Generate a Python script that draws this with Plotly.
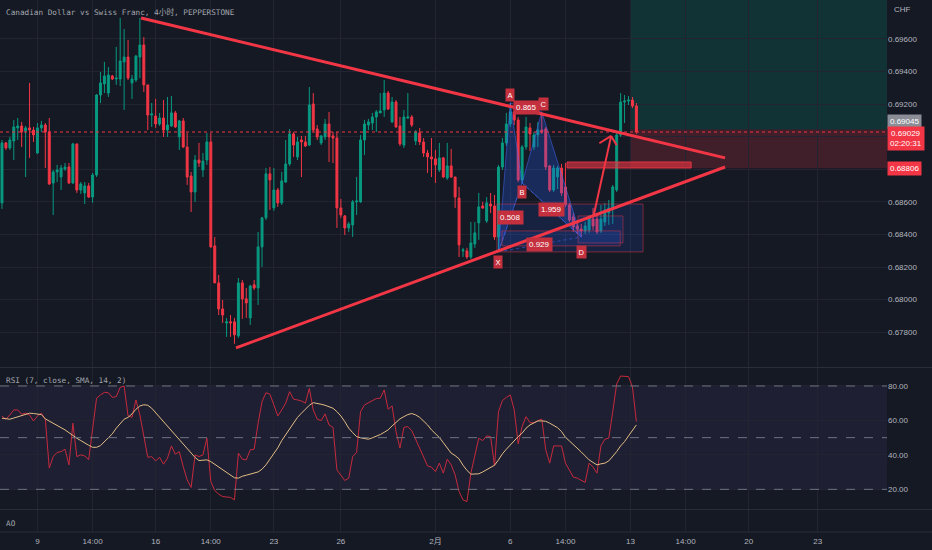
import plotly.graph_objects as go

# CADCHF 4h bars, numbered left to right (weekend gaps removed)
bar_idx = list(range(162))

open_ = [0.68594, 0.68962, 0.68931, 0.68974, 0.69054, 0.69066, 0.69035, 0.69054, 0.69041, 0.68900,
         0.69054, 0.69072, 0.69029, 0.68716, 0.68784, 0.68753, 0.68802, 0.68814, 0.68716, 0.68956,
         0.68673, 0.68655, 0.68698, 0.68630, 0.68765, 0.69256, 0.69324, 0.69268, 0.69373, 0.69354,
         0.69354, 0.69459, 0.69489, 0.69330, 0.69348, 0.69489, 0.69563, 0.69318, 0.69133, 0.69127,
         0.69078, 0.69115, 0.69041, 0.69066, 0.69146, 0.68999, 0.69097, 0.68937, 0.68759, 0.68661,
         0.68857, 0.68796, 0.68857, 0.68968, 0.68330, 0.68103, 0.67943, 0.67857, 0.67864, 0.67864,
         0.67778, 0.68103, 0.68005, 0.67888, 0.68091, 0.68072, 0.68324, 0.68502, 0.68772, 0.68563,
         0.68673, 0.68594, 0.68722, 0.68833, 0.69017, 0.68876, 0.68980, 0.68968, 0.68949, 0.69201,
         0.69048, 0.68962, 0.68999, 0.69078, 0.69005, 0.68992, 0.68563, 0.68514, 0.68440, 0.68459,
         0.68600, 0.68600, 0.68980, 0.69072, 0.69084, 0.69121, 0.69146, 0.69164, 0.69268, 0.69091,
         0.69213, 0.69066, 0.68949, 0.69115, 0.69121, 0.68974, 0.69023, 0.68968, 0.68900, 0.68876,
         0.68864, 0.68796, 0.68870, 0.68747, 0.68821, 0.68753, 0.68624, 0.68299, 0.68299, 0.68262,
         0.68342, 0.68471, 0.68575, 0.68483, 0.68587, 0.68575, 0.68385, 0.68814, 0.68962, 0.69078,
         0.69152, 0.69103, 0.68735, 0.68937, 0.69054, 0.68937, 0.69011, 0.69041, 0.69048, 0.68821,
         0.68673, 0.68753, 0.68808, 0.68692, 0.68581, 0.68508, 0.68452, 0.68434, 0.68422, 0.68428,
         0.68495, 0.68495, 0.68422, 0.68477, 0.68532, 0.68563, 0.68673, 0.69011, 0.69213, 0.69219,
         0.69225, 0.69189]
high = [0.68980, 0.68968, 0.68999, 0.69103, 0.69115, 0.69091, 0.69066, 0.69330, 0.69060, 0.69084,
        0.69097, 0.69084, 0.69115, 0.68796, 0.68827, 0.68827, 0.68839, 0.68839, 0.68962, 0.68956,
        0.68722, 0.68722, 0.68716, 0.68778, 0.69262, 0.69397, 0.69459, 0.69428, 0.69379, 0.69551,
        0.69729, 0.69661, 0.69594, 0.69379, 0.69502, 0.69729, 0.69612, 0.69318, 0.69207, 0.69232,
        0.69146, 0.69225, 0.69244, 0.69250, 0.69158, 0.69103, 0.69115, 0.69023, 0.68784, 0.68888,
        0.68962, 0.68900, 0.69023, 0.69023, 0.68385, 0.68152, 0.67998, 0.67888, 0.67906, 0.67888,
        0.68133, 0.68121, 0.68072, 0.68091, 0.68121, 0.68416, 0.68508, 0.68808, 0.68814, 0.68808,
        0.68686, 0.68784, 0.68980, 0.69048, 0.69029, 0.68999, 0.69005, 0.69005, 0.69305, 0.69268,
        0.69072, 0.69011, 0.69109, 0.69152, 0.69029, 0.69029, 0.68618, 0.68520, 0.68477, 0.68612,
        0.68753, 0.69011, 0.69103, 0.69109, 0.69146, 0.69164, 0.69268, 0.69348, 0.69281, 0.69244,
        0.69225, 0.69121, 0.69164, 0.69268, 0.69133, 0.69041, 0.69054, 0.68992, 0.68919, 0.68992,
        0.68919, 0.68962, 0.68876, 0.68962, 0.68925, 0.68753, 0.68692, 0.68318, 0.68318, 0.68477,
        0.68477, 0.68655, 0.68600, 0.68630, 0.68655, 0.68643, 0.68827, 0.68992, 0.69146, 0.69207,
        0.69195, 0.69121, 0.68949, 0.69121, 0.69084, 0.69029, 0.69091, 0.69152, 0.69060, 0.68827,
        0.68827, 0.68821, 0.68833, 0.68839, 0.68594, 0.68532, 0.68489, 0.68465, 0.68477, 0.68520,
        0.68563, 0.68532, 0.68581, 0.68594, 0.68612, 0.68704, 0.69023, 0.69268, 0.69256, 0.69250,
        0.69244, 0.69207]
low = [0.68557, 0.68919, 0.68919, 0.68857, 0.68980, 0.68937, 0.68753, 0.68870, 0.68968, 0.68894,
       0.69029, 0.68808, 0.68704, 0.68520, 0.68722, 0.68673, 0.68790, 0.68710, 0.68710, 0.68655,
       0.68649, 0.68587, 0.68624, 0.68594, 0.68753, 0.69207, 0.69268, 0.69244, 0.69348, 0.69318,
       0.69311, 0.69164, 0.69348, 0.69232, 0.69336, 0.69360, 0.69275, 0.69041, 0.69060, 0.69054,
       0.69066, 0.68999, 0.68999, 0.69060, 0.69054, 0.68919, 0.68931, 0.68704, 0.68538, 0.68600,
       0.68814, 0.68753, 0.68827, 0.68318, 0.68103, 0.67906, 0.67857, 0.67772, 0.67772, 0.67729,
       0.67765, 0.67882, 0.67888, 0.67845, 0.68060, 0.67968, 0.68201, 0.68489, 0.68551, 0.68545,
       0.68569, 0.68581, 0.68716, 0.68821, 0.68876, 0.68857, 0.68753, 0.68937, 0.68943, 0.69029,
       0.68980, 0.68949, 0.68980, 0.68845, 0.68839, 0.68440, 0.68502, 0.68397, 0.68416, 0.68385,
       0.68520, 0.68594, 0.68888, 0.69041, 0.69041, 0.69029, 0.69146, 0.69121, 0.69164, 0.69084,
       0.69054, 0.68943, 0.68931, 0.69109, 0.69060, 0.68949, 0.68949, 0.68876, 0.68778, 0.68753,
       0.68716, 0.68784, 0.68747, 0.68735, 0.68747, 0.68563, 0.68262, 0.68262, 0.68250, 0.68250,
       0.68318, 0.68367, 0.68557, 0.68471, 0.68532, 0.68367, 0.68293, 0.68796, 0.68943, 0.69060,
       0.69072, 0.68722, 0.68716, 0.68919, 0.68913, 0.68919, 0.68937, 0.69017, 0.68796, 0.68661,
       0.68661, 0.68679, 0.68637, 0.68569, 0.68477, 0.68416, 0.68403, 0.68385, 0.68403, 0.68410,
       0.68428, 0.68403, 0.68410, 0.68452, 0.68459, 0.68465, 0.68661, 0.68999, 0.69084, 0.69195,
       0.69176, 0.69017]
close = [0.68962, 0.68931, 0.68980, 0.69060, 0.69066, 0.69029, 0.69054, 0.69041, 0.69011, 0.69054,
         0.69072, 0.69029, 0.68710, 0.68784, 0.68796, 0.68808, 0.68814, 0.68716, 0.68956, 0.68673,
         0.68710, 0.68698, 0.68630, 0.68765, 0.69256, 0.69330, 0.69373, 0.69379, 0.69354, 0.69360,
         0.69465, 0.69489, 0.69360, 0.69354, 0.69495, 0.69563, 0.69318, 0.69133, 0.69140, 0.69078,
         0.69115, 0.69041, 0.69072, 0.69146, 0.69060, 0.69097, 0.68937, 0.68753, 0.68661, 0.68857,
         0.68839, 0.68851, 0.68968, 0.68324, 0.68103, 0.67943, 0.67906, 0.67864, 0.67857, 0.67784,
         0.68103, 0.68005, 0.67980, 0.68084, 0.68072, 0.68324, 0.68502, 0.68772, 0.68735, 0.68673,
         0.68594, 0.68729, 0.68833, 0.69017, 0.68949, 0.68968, 0.68968, 0.68943, 0.69195, 0.69041,
         0.68999, 0.69005, 0.69078, 0.68999, 0.68992, 0.68563, 0.68520, 0.68440, 0.68465, 0.68600,
         0.68606, 0.68980, 0.69078, 0.69091, 0.69121, 0.69152, 0.69158, 0.69268, 0.69170, 0.69213,
         0.69060, 0.68956, 0.69121, 0.69121, 0.69072, 0.69029, 0.68968, 0.68900, 0.68876, 0.68864,
         0.68827, 0.68870, 0.68753, 0.68821, 0.68753, 0.68630, 0.68336, 0.68305, 0.68262, 0.68348,
         0.68410, 0.68569, 0.68563, 0.68594, 0.68575, 0.68385, 0.68814, 0.68962, 0.69078, 0.69152,
         0.69103, 0.68735, 0.68937, 0.69060, 0.69017, 0.69011, 0.69041, 0.69029, 0.68814, 0.68673,
         0.68808, 0.68808, 0.68655, 0.68581, 0.68489, 0.68446, 0.68434, 0.68422, 0.68452, 0.68502,
         0.68452, 0.68416, 0.68495, 0.68551, 0.68563, 0.68692, 0.69011, 0.69213, 0.69219, 0.69225,
         0.69189, 0.69029]

# RSI(7) and its SMA(14)
rsi = [62.6, 60.7, 63.2, 66.1, 66.1, 63.6, 64.2, 63.2, 59.7, 62.6,
       64.2, 60.7, 32.3, 39.0, 41.4, 41.9, 43.3, 34.2, 58.4, 39.0,
       40.0, 39.4, 37.1, 55.5, 72.9, 74.8, 76.3, 76.1, 73.4, 73.8,
       79.2, 80.0, 62.6, 61.8, 71.9, 63.2, 49.7, 38.6, 39.0, 36.5,
       38.6, 34.6, 38.1, 45.2, 40.4, 41.9, 33.2, 25.5, 21.1, 40.0,
       39.0, 40.0, 49.7, 24.5, 19.3, 17.2, 15.8, 15.5, 15.3, 13.9,
       41.0, 37.5, 37.1, 42.9, 43.3, 58.4, 70.9, 76.1, 75.2, 69.0,
       62.6, 66.1, 70.0, 76.7, 72.3, 71.9, 71.3, 70.0, 78.6, 66.1,
       60.7, 59.9, 63.8, 57.4, 56.0, 31.3, 28.4, 25.1, 26.5, 39.0,
       41.4, 65.1, 69.0, 70.3, 71.5, 72.7, 72.9, 77.7, 66.5, 68.4,
       53.5, 43.9, 56.0, 56.4, 54.1, 49.1, 44.4, 39.0, 33.6, 32.9,
       30.3, 35.2, 29.4, 37.5, 34.2, 28.4, 18.7, 13.9, 12.9, 29.4,
       39.0, 49.7, 48.3, 51.0, 50.6, 33.6, 65.1, 71.5, 73.4, 74.8,
       66.1, 46.4, 56.4, 62.2, 58.7, 58.7, 59.9, 60.7, 42.9, 35.2,
       45.2, 45.2, 45.2, 35.2, 31.3, 27.1, 26.5, 25.1, 24.0, 35.2,
       32.9, 29.4, 45.2, 49.1, 49.7, 65.1, 81.2, 85.8, 85.8, 85.4,
       79.6, 59.3]
rsi_ma = [61.3, 60.9, 60.7, 61.4, 62.2, 63.0, 63.8, 64.2, 64.0, 63.8,
          63.4, 60.9, 59.5, 58.4, 57.2, 55.8, 54.5, 52.8, 51.4, 49.7,
          48.3, 46.8, 45.6, 44.4, 44.4, 45.4, 47.7, 49.9, 52.2, 55.5,
          58.4, 60.7, 61.8, 63.8, 66.5, 68.4, 69.1, 68.8, 67.1, 64.5,
          62.2, 59.7, 56.8, 54.1, 51.6, 49.3, 46.8, 43.9, 41.4, 38.5,
          36.7, 36.9, 37.1, 36.1, 34.6, 32.9, 31.3, 29.8, 28.2, 26.7,
          26.5, 27.6, 28.2, 28.8, 29.4, 30.1, 31.7, 34.2, 37.5, 40.8,
          44.1, 48.3, 51.6, 55.5, 58.9, 61.8, 64.2, 66.5, 68.8, 70.3,
          70.0, 69.4, 68.8, 68.0, 67.1, 65.1, 62.6, 59.3, 55.5, 52.9,
          50.6, 49.9, 49.5, 49.1, 49.9, 50.8, 51.8, 53.1, 54.5, 56.8,
          59.1, 60.9, 62.2, 63.4, 64.0, 63.2, 61.8, 59.7, 57.4, 54.5,
          52.2, 50.1, 47.1, 43.9, 41.0, 39.6, 37.7, 34.0, 31.0, 28.8,
          28.8, 29.0, 30.1, 31.3, 32.9, 34.0, 37.1, 40.6, 43.3, 45.8,
          48.3, 50.6, 52.6, 55.5, 57.4, 58.7, 59.7, 59.7, 59.5, 58.4,
          57.2, 55.8, 53.5, 50.2, 48.1, 46.0, 44.3, 41.7, 39.4, 37.1,
          35.6, 34.2, 34.8, 35.2, 36.5, 39.0, 41.9, 45.2, 47.7, 51.0,
          54.5, 57.4]

day_ticks = [9, 23, 39, 53, 69, 86, 110, 129, 143, 159.5, 173.5, 189.5, 207]
day_labels = ['9', '14:00', '16', '14:00', '23', '26', '2月', '6', '14:00', '13', '14:00', '20', '23']
price_ticks = [0.678, 0.680, 0.682, 0.684, 0.686, 0.688, 0.690, 0.692, 0.694, 0.696]
# 0.688 / 0.690 are hidden behind the coloured price labels
price_labels = ['0.67800', '0.68000', '0.68200', '0.68400', '0.68600', '', '',
                '0.69200', '0.69400', '0.69600']
rsi_ticks = [20, 40, 60, 80]

# drawings (bar index, price)
upper_trend_x = [35.3, 183.5]
upper_trend_y = [0.69729, 0.68870]
lower_trend_x = [59.4, 183.5]
lower_trend_y = [0.67704, 0.68814]
xabcd_names = ['X', 'A', 'B', 'C', 'D']
xabcd_x = [126, 129, 132, 137, 147]
xabcd_y = [0.68293, 0.69207, 0.68716, 0.69152, 0.68385]
xabcd_ratios = ['0.508', '0.865', '1.959', '0.929']  # X-B, A-C, B-D, X-D
boxes_x = [[125.6, 162.7], [146.2, 157.6], [126.9, 156.9]]
boxes_y = [[0.68293, 0.68587], [0.68348, 0.68514], [0.68330, 0.68422]]
band_x = [143.4, 174.9]
band_y = [0.68808, 0.68845]
arrow_x = [150.1, 154.6]
arrow_y = [0.68510, 0.69005]
head_x = [151.6, 154.6, 156.0]
head_y = [0.68960, 0.69005, 0.68948]
position_start = 159.6
entry_price = 0.69045
stop_price = 0.68806
last_price = 0.69029
countdown = '02:20:31'

BG = '#151924'
GRID = '#222531'
TXT = '#b2b5be'
RED = '#f23645'
GREEN = '#089981'
MONO = 'DejaVu Sans Mono, Noto Sans CJK SC'
X_END = 224.6

fig = go.Figure()

fig.add_trace(go.Candlestick(
    x=bar_idx, open=open_, high=high, low=low, close=close,
    increasing=dict(line=dict(color=GREEN, width=1), fillcolor=GREEN),
    decreasing=dict(line=dict(color=RED, width=1), fillcolor=RED),
    whiskerwidth=0, yaxis='y', hoverinfo='skip', showlegend=False))

# XABCD harmonic pattern
tri1 = [0, 1, 2, 0]
tri2 = [2, 3, 4, 2]
for tri in (tri1, tri2):
    fig.add_trace(go.Scatter(
        x=[xabcd_x[k] for k in tri], y=[xabcd_y[k] for k in tri], yaxis='y',
        mode='lines', fill='toself', fillcolor='rgba(41,98,255,0.25)',
        line=dict(color='rgba(70,110,255,0.5)', width=1), hoverinfo='skip'))
for a, b in [(0, 2), (1, 3), (2, 4), (0, 4)]:
    fig.add_trace(go.Scatter(
        x=[xabcd_x[a], xabcd_x[b]], y=[xabcd_y[a], xabcd_y[b]], yaxis='y',
        mode='lines', line=dict(color='rgba(70,110,255,0.5)', width=1, dash='dot'),
        hoverinfo='skip'))

fig.add_trace(go.Scatter(x=bar_idx, y=rsi, yaxis='y2', mode='lines',
                         line=dict(color='#c62a3c', width=1), hoverinfo='skip'))
fig.add_trace(go.Scatter(x=bar_idx, y=rsi_ma, yaxis='y2', mode='lines',
                         line=dict(color='#e2be84', width=1), hoverinfo='skip'))
fig.add_trace(go.Scatter(x=[0], y=[0.5], yaxis='y3', mode='markers',
                         marker=dict(opacity=0), hoverinfo='skip'))

shapes = []
# long position tool
shapes.append(dict(type='rect', xref='x', yref='y', x0=position_start, x1=X_END,
                   y0=entry_price, y1=0.70, fillcolor='rgba(8,153,129,0.2)',
                   line=dict(width=0), layer='below'))
shapes.append(dict(type='rect', xref='x', yref='y', x0=position_start, x1=X_END,
                   y0=stop_price, y1=entry_price, fillcolor='rgba(242,54,69,0.2)',
                   line=dict(width=0), layer='below'))
# last price line
shapes.append(dict(type='line', xref='paper', yref='y', x0=0, x1=1, y0=last_price, y1=last_price,
                   line=dict(color=RED, width=1, dash='dot')))
# boxes around the pattern
for bx, by in zip(boxes_x, boxes_y):
    shapes.append(dict(type='rect', xref='x', yref='y', x0=bx[0], x1=bx[1], y0=by[0], y1=by[1],
                       fillcolor='rgba(41,98,255,0.13)',
                       line=dict(color='rgba(242,54,69,0.45)', width=1), layer='above'))
shapes.append(dict(type='rect', xref='x', yref='y', x0=band_x[0], x1=band_x[1],
                   y0=band_y[0], y1=band_y[1], fillcolor='rgba(242,54,69,0.6)',
                   line=dict(color='rgba(242,54,69,0.85)', width=1), layer='above'))
# triangle trendlines
for tx, ty in [(upper_trend_x, upper_trend_y), (lower_trend_x, lower_trend_y)]:
    shapes.append(dict(type='line', xref='x', yref='y', x0=tx[0], x1=tx[1], y0=ty[0], y1=ty[1],
                       line=dict(color=RED, width=3), layer='above'))
# arrow
shapes.append(dict(type='line', xref='x', yref='y', x0=arrow_x[0], x1=arrow_x[1],
                   y0=arrow_y[0], y1=arrow_y[1], line=dict(color=RED, width=2), layer='above'))
for k in (0, 2):
    shapes.append(dict(type='line', xref='x', yref='y', x0=head_x[k], x1=head_x[1],
                       y0=head_y[k], y1=head_y[1], line=dict(color=RED, width=2), layer='above'))
# RSI band and levels
shapes.append(dict(type='rect', xref='paper', yref='y2', x0=0, x1=1, y0=20, y1=80,
                   fillcolor='rgba(126,87,194,0.1)', line=dict(width=0), layer='below'))
for lvl in (80, 50, 20):
    shapes.append(dict(type='line', xref='paper', yref='y2', x0=0, x1=1, y0=lvl, y1=lvl,
                       line=dict(color='#6f7380', width=1, dash='dash')))
# pane separators
for py in (0.3092, 0.0423, 0.0):
    shapes.append(dict(type='line', xref='paper', yref='paper', x0=0, x1=1.0508, y0=py, y1=py,
                       line=dict(color='#2a2e39', width=1)))

ann = []
ann.append(dict(text='Canadian Dollar vs Swiss Franc, 4小时, PEPPERSTONE', xref='paper', yref='paper',
                x=0, y=1, xanchor='left', yanchor='top', xshift=4, yshift=-5, showarrow=False,
                font=dict(family=MONO, size=7.7, color='#a3a6ae')))
ann.append(dict(text='RSI (7, close, SMA, 14, 2)', xref='paper', yref='paper', x=0, y=0.3083,
                xanchor='left', yanchor='top', xshift=4, yshift=-6, showarrow=False,
                font=dict(family=MONO, size=7.7, color='#a3a6ae')))
ann.append(dict(text='AO', xref='paper', yref='paper', x=0, y=0.0414, xanchor='left', yanchor='top',
                xshift=4, yshift=-7, showarrow=False, font=dict(family=MONO, size=7.7, color='#a3a6ae')))
ann.append(dict(text='CHF', xref='paper', yref='paper', x=1, y=1, xanchor='left', yanchor='top',
                xshift=5, yshift=-3, showarrow=False, font=dict(size=8, color=TXT)))

# axis price labels
ann.append(dict(text=f'{entry_price:.5f}', xref='paper', yref='y', x=1, y=entry_price,
                xanchor='left', yanchor='middle', yshift=8, showarrow=False, bgcolor='#8b8e97',
                borderpad=2, font=dict(size=8, color='white')))
ann.append(dict(text=f'{last_price:.5f}<br>{countdown}', xref='paper', yref='y', x=1, y=last_price,
                xanchor='left', yanchor='top', yshift=6, showarrow=False, bgcolor=RED,
                borderpad=2, font=dict(size=8, color='white')))
ann.append(dict(text=f'{stop_price:.5f}', xref='paper', yref='y', x=1, y=stop_price,
                xanchor='left', yanchor='middle', showarrow=False, bgcolor=RED,
                borderpad=2, font=dict(size=8, color='white')))

# ratio labels on the pattern legs, then the point labels on top of them
for (a, b), label in zip([(0, 2), (1, 3), (2, 4), (0, 4)], xabcd_ratios):
    ann.append(dict(text=label, xref='x', yref='y', x=(xabcd_x[a] + xabcd_x[b]) / 2,
                    y=(xabcd_y[a] + xabcd_y[b]) / 2, showarrow=False, bgcolor='#c4303e',
                    borderpad=2, font=dict(size=8, color='white')))
point_shift = {'X': -10, 'A': 8, 'B': -9, 'C': 8, 'D': -15}
for name, px_, py_ in zip(xabcd_names, xabcd_x, xabcd_y):
    ann.append(dict(text=name, xref='x', yref='y', x=px_, y=py_, yshift=point_shift[name],
                    xshift=2 if name == 'C' else 0,
                    showarrow=False, bgcolor='#c4303e', borderpad=1.5,
                    font=dict(size=7.5, color='white')))

fig.update_layout(
    width=932, height=550,
    margin=dict(l=0, r=45, t=0, b=18),
    paper_bgcolor=BG, plot_bgcolor=BG,
    showlegend=False,
    font=dict(family='Liberation Sans, Noto Sans CJK SC', size=8, color=TXT),
    xaxis=dict(domain=[0, 1], anchor='y3', range=[-0.5, X_END], tickvals=day_ticks,
               ticktext=day_labels, showgrid=True, gridcolor=GRID, zeroline=False,
               showline=False, ticks='', rangeslider=dict(visible=False),
               ticklabelstandoff=3, tickfont=dict(size=8, color=TXT)),
    yaxis=dict(domain=[0.3102, 1], anchor='x', side='right', range=[0.67587, 0.69839],
               tickvals=price_ticks, ticktext=price_labels, gridcolor=GRID, zeroline=False,
               showline=False, ticks='', tickfont=dict(size=8, color=TXT)),
    yaxis2=dict(domain=[0.0432, 0.3083], anchor='x', side='right', range=[8.57, 90.45],
                tickvals=rsi_ticks, tickformat='.2f', gridcolor=GRID, zeroline=False,
                showline=False, ticks='', tickfont=dict(size=8, color=TXT)),
    yaxis3=dict(domain=[0, 0.0414], anchor='x', side='right', range=[0, 1],
                showticklabels=False, showgrid=False, zeroline=False, showline=False),
    shapes=shapes,
    annotations=ann,
)

# drop the page's default 8px body margin so the chart fills the window
fig.write_html("out.html", config={'displayModeBar': False},
               post_script="document.body.style.margin='0';document.body.style.background='#151924';")
